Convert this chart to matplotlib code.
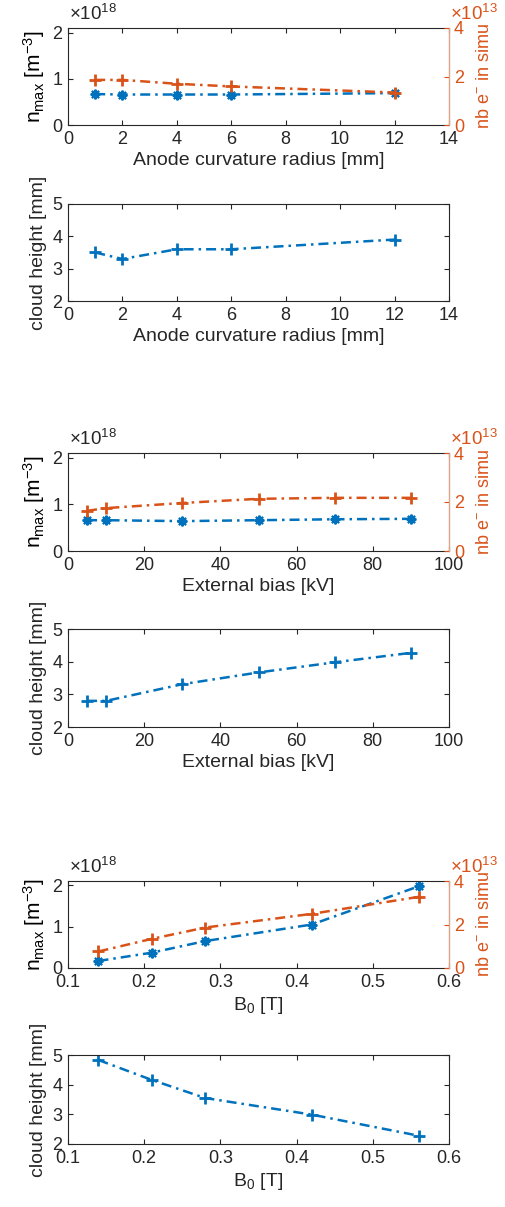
import matplotlib.pyplot as plt
from matplotlib.ticker import FuncFormatter

# group 1: anode curvature radius
radius_mm = [1, 2, 4, 6, 12]
radius_nmax = [0.67e18, 0.66e18, 0.66e18, 0.66e18, 0.69e18]
radius_nbe = [1.86e13, 1.86e13, 1.70e13, 1.59e13, 1.34e13]
radius_height = [3.5, 3.3, 3.6, 3.6, 3.9]

# group 2: external bias
bias_kv = [5, 10, 30, 50, 70, 90]
bias_nmax = [0.66e18, 0.66e18, 0.64e18, 0.66e18, 0.68e18, 0.69e18]
bias_nbe = [1.64e13, 1.75e13, 1.96e13, 2.13e13, 2.17e13, 2.17e13]
bias_height = [2.80, 2.80, 3.31, 3.67, 3.98, 4.27]

# group 3: magnetic field
b0_t = [0.14, 0.21, 0.28, 0.42, 0.56]
b0_nmax = [0.17e18, 0.37e18, 0.65e18, 1.05e18, 1.97e18]
b0_nbe = [0.76e13, 1.34e13, 1.86e13, 2.49e13, 3.27e13]
b0_height = [4.83, 4.16, 3.55, 2.99, 2.28]

BLUE = "#0072BD"
ORANGE = "#D95319"
GREY = "#262626"
DASHDOT = (0, (4, 2, 1, 2))

plt.rcParams["font.family"] = ["Liberation Sans", "DejaVu Sans"]
plt.rcParams["font.size"] = 13
plt.rcParams["mathtext.fontset"] = "custom"
plt.rcParams["mathtext.rm"] = "Liberation Sans"
plt.rcParams["mathtext.it"] = "Liberation Sans"

W, H = 506, 1207
fig = plt.figure(figsize=(W / 100, H / 100), dpi=100)


def make_axes(top, bottom):
    return fig.add_axes([68 / W, 1 - bottom / H, 381 / W, (bottom - top) / H])


def style(ax, right=True):
    for s in ax.spines.values():
        s.set_color(GREY)
        s.set_linewidth(0.8)
    ax.tick_params(direction="in", length=3.5, width=0.8, colors=GREY,
                   labelsize=13, top=True, right=right, pad=4)


def sci(ax, exp, color, xfrac):
    # tick labels in units of 10^exp, multiplier written above the axis
    ax.yaxis.set_major_formatter(FuncFormatter(lambda v, _: f"{v / 10 ** exp:g}"))
    ax.annotate(f"×10$^{{{exp}}}$", xy=(xfrac, 1), xycoords="axes fraction",
                xytext=(1, 5.5), textcoords="offset points", ha="left", va="baseline",
                fontsize=13.5, color=color)


def density_panel(top, bottom, x, nmax, nbe, xlim, xticks, xlabel):
    ax = make_axes(top, bottom)
    style(ax, right=False)
    ax.plot(x, nmax, color=BLUE, lw=1.8, ls=DASHDOT, marker=(8, 2, 0), ms=7, mew=1.5)
    ax.set_xlim(xlim)
    ax.set_xticks(xticks)
    ax.set_ylim(0, 2.1e18)
    ax.set_yticks([0, 1e18, 2e18])
    sci(ax, 18, GREY, 0.0)
    ax.set_xlabel(xlabel, color=GREY, fontsize=14, labelpad=3)
    ax.set_ylabel(r"n$_{\mathrm{max}}$ [m$^{-3}$]", color="black", fontsize=15, labelpad=4)

    ax2 = ax.twinx()
    ax2.plot(x, nbe, color=ORANGE, lw=1.8, ls=DASHDOT, marker="+", ms=8, mew=2)
    ax2.set_ylim(0, 4e13)
    ax2.set_yticks([0, 2e13, 4e13])
    for s in ax2.spines.values():
        s.set_visible(False)
    ax2.spines["right"].set_visible(True)
    ax2.spines["right"].set_color("#E8A080")
    ax2.tick_params(direction="in", length=3.5, width=0.8, colors=ORANGE, labelsize=13)
    sci(ax2, 13, ORANGE, 1.0)
    ax2.set_ylabel(r"nb e$^{-}$ in simu", color=ORANGE, fontsize=13, labelpad=9)
    return ax


def height_panel(top, bottom, x, h, xlim, xticks, xlabel):
    ax = make_axes(top, bottom)
    style(ax)
    ax.plot(x, h, color=BLUE, lw=1.8, ls=DASHDOT, marker="+", ms=8, mew=2)
    ax.set_xlim(xlim)
    ax.set_xticks(xticks)
    ax.set_ylim(2, 5)
    ax.set_yticks([2, 3, 4, 5])
    ax.set_xlabel(xlabel, color=GREY, fontsize=14, labelpad=3)
    ax.set_ylabel("cloud height [mm]", color=GREY, fontsize=14, labelpad=4)
    return ax


radius_ticks = [0, 2, 4, 6, 8, 10, 12, 14]
bias_ticks = [0, 20, 40, 60, 80, 100]
b0_ticks = [0.1, 0.2, 0.3, 0.4, 0.5, 0.6]

density_panel(28, 125, radius_mm, radius_nmax, radius_nbe, (0, 14), radius_ticks,
              "Anode curvature radius [mm]")
height_panel(204, 301, radius_mm, radius_height, (0, 14), radius_ticks,
             "Anode curvature radius [mm]")

density_panel(453, 551, bias_kv, bias_nmax, bias_nbe, (0, 100), bias_ticks,
              "External bias [kV]")
height_panel(629, 727, bias_kv, bias_height, (0, 100), bias_ticks,
             "External bias [kV]")

ax5 = density_panel(881, 968, b0_t, b0_nmax, b0_nbe, (0.1, 0.6), b0_ticks,
                    r"B$_0$ [T]")
ax6 = height_panel(1055, 1144, b0_t, b0_height, (0.1, 0.6), b0_ticks,
                   r"B$_0$ [T]")
for ax in (ax5, ax6):
    ax.set_xticklabels([f"{t:.1f}" for t in b0_ticks])

fig.savefig("out.png", dpi=100)
